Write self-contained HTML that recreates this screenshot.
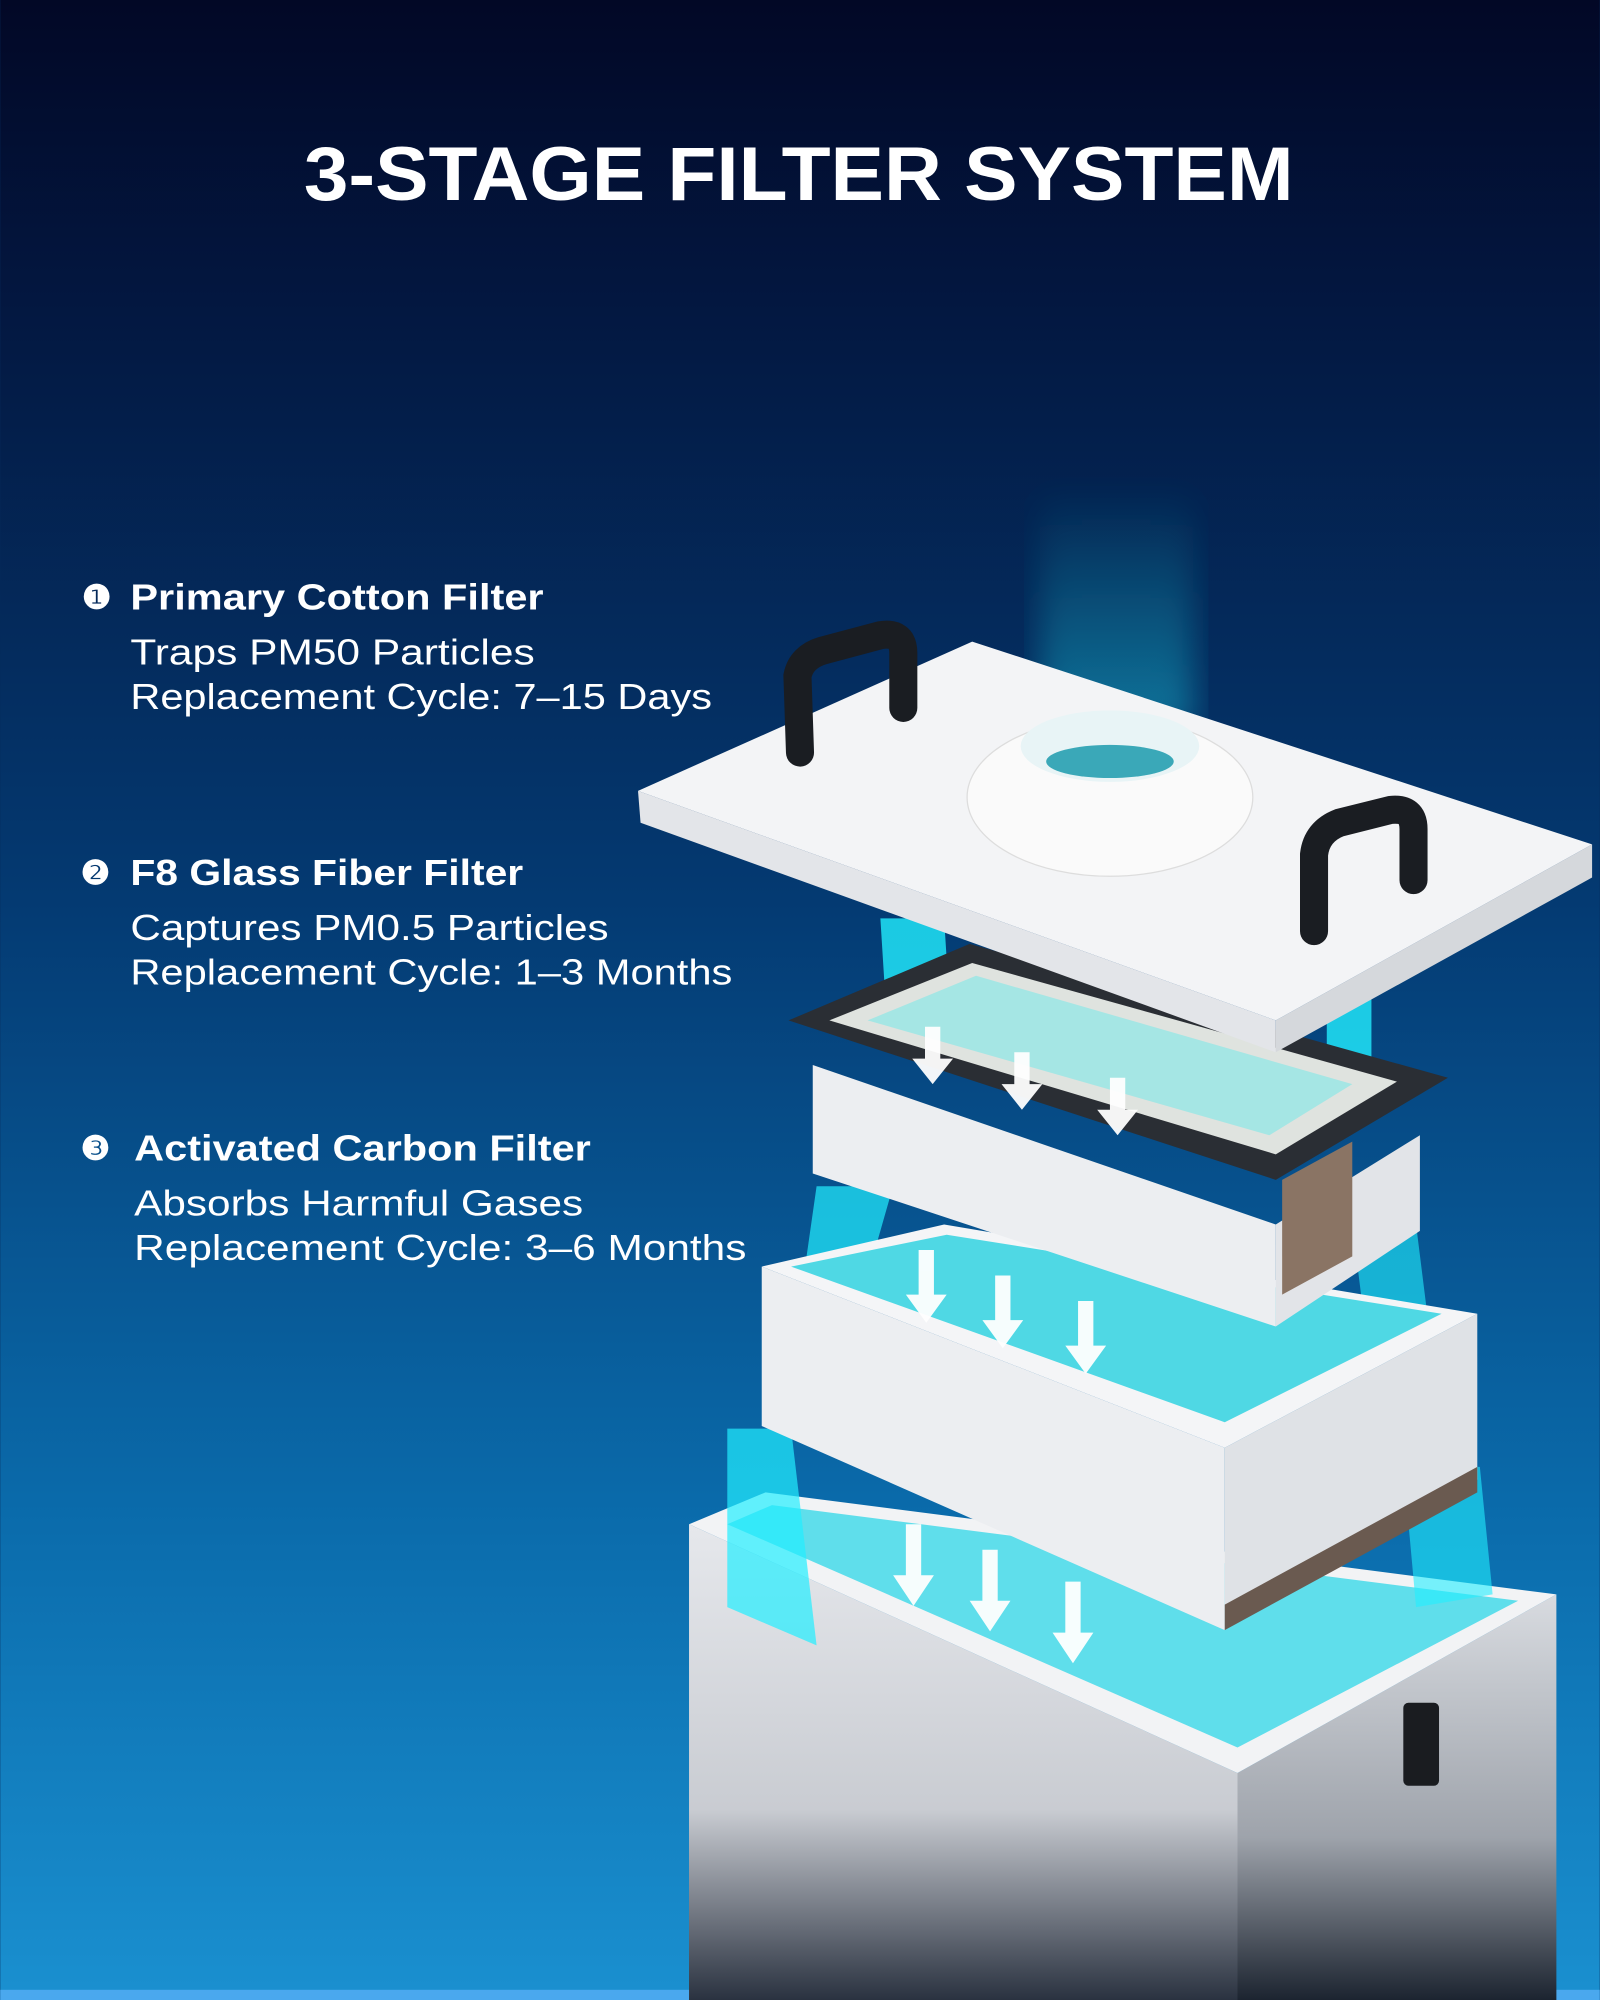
<!DOCTYPE html>
<html><head><meta charset="utf-8"><style>
html,body{margin:0;padding:0;width:1600px;height:2000px;overflow:hidden;background:#062a5a}
svg{display:block}
text{font-family:"Liberation Sans",sans-serif;fill:#fff}
</style></head><body>
<svg width="1600" height="2000" viewBox="0 0 1254 1568" xmlns="http://www.w3.org/2000/svg">
<defs>
<linearGradient id="bg" x1="0" y1="0" x2="0" y2="1">
<stop offset="0" stop-color="#020826"/><stop offset="0.15" stop-color="#031740"/>
<stop offset="0.45" stop-color="#043a72"/><stop offset="0.75" stop-color="#0a6aaa"/>
<stop offset="1" stop-color="#1a90d0"/></linearGradient>
<linearGradient id="beam" x1="0" y1="0" x2="0" y2="1">
<stop offset="0" stop-color="#2ff" stop-opacity="0"/><stop offset="1" stop-color="#2ef" stop-opacity="0.8"/></linearGradient>
<linearGradient id="body" x1="0" y1="0" x2="0" y2="1">
<stop offset="0" stop-color="#e6e8ec"/><stop offset="0.6" stop-color="#c9ccd2"/><stop offset="1" stop-color="#2a3240"/></linearGradient>
<linearGradient id="bodyR" x1="0" y1="0" x2="0" y2="1">
<stop offset="0" stop-color="#d8dbe0"/><stop offset="0.6" stop-color="#9ea3ab"/><stop offset="1" stop-color="#1c2430"/></linearGradient>
<filter id="blur"><feGaussianBlur stdDeviation="12"/></filter>
</defs>
<rect width="1254" height="1568" fill="url(#bg)"/>
<rect y="1560" width="1254" height="8" fill="#4aa8ee"/>
<text x="238" y="157" font-size="60" font-weight="bold" textLength="776" lengthAdjust="spacingAndGlyphs">3-STAGE FILTER SYSTEM</text>

<text x="64" y="477" font-size="26" font-weight="bold">❶</text>
<text x="102" y="478" font-size="28" font-weight="bold" textLength="324" lengthAdjust="spacingAndGlyphs">Primary Cotton Filter</text>
<text x="102" y="521" font-size="28" textLength="317" lengthAdjust="spacingAndGlyphs">Traps PM50 Particles</text>
<text x="102" y="556" font-size="28" textLength="456" lengthAdjust="spacingAndGlyphs">Replacement Cycle: 7–15 Days</text>
<text x="63" y="693" font-size="26" font-weight="bold">❷</text>
<text x="102" y="694" font-size="28" font-weight="bold" textLength="308" lengthAdjust="spacingAndGlyphs">F8 Glass Fiber Filter</text>
<text x="102" y="737" font-size="28" textLength="375" lengthAdjust="spacingAndGlyphs">Captures PM0.5 Particles</text>
<text x="102" y="772" font-size="28" textLength="472" lengthAdjust="spacingAndGlyphs">Replacement Cycle: 1–3 Months</text>
<text x="63" y="909" font-size="26" font-weight="bold">❸</text>
<text x="105" y="910" font-size="28" font-weight="bold" textLength="358" lengthAdjust="spacingAndGlyphs">Activated Carbon Filter</text>
<text x="105" y="953" font-size="28" textLength="352" lengthAdjust="spacingAndGlyphs">Absorbs Harmful Gases</text>
<text x="105" y="988" font-size="28" textLength="480" lengthAdjust="spacingAndGlyphs">Replacement Cycle: 3–6 Months</text>

<!-- top beam -->
<rect x="815" y="380" width="120" height="190" fill="url(#beam)" opacity="0.45" filter="url(#blur)"/>

<!-- body -->
<polygon points="540,1195 970,1390 970,1568 540,1568" fill="url(#body)"/>
<polygon points="970,1390 1220,1250 1220,1568 970,1568" fill="url(#bodyR)"/>
<polygon points="540,1195 600,1170 1220,1250 970,1390" fill="#f2f3f5"/>
<polygon points="570,1195 605,1180 1190,1255 970,1370" fill="#3ad8e8" opacity="0.8"/>
<rect x="1100" y="1335" width="28" height="65" rx="4" fill="#1a1c20"/>
<!-- beams between -->
<polygon points="570,1120 620,1120 640,1290 570,1260" fill="#2ef" opacity="0.7"/>
<polygon points="1100,1150 1160,1150 1170,1250 1110,1260" fill="#2ef" opacity="0.6"/>
<polygon points="640,930 700,930 680,1000 630,1000" fill="#2ef" opacity="0.7"/>
<polygon points="1060,960 1110,960 1120,1040 1070,1040" fill="#2ef" opacity="0.6"/>
<polygon points="690,720 740,720 745,800 695,800" fill="#2ef" opacity="0.8"/>
<polygon points="1040,780 1075,780 1075,850 1040,850" fill="#2ef" opacity="0.8"/>

<!-- filter 3 -->
<polygon points="597,993 960,1135 960,1278 597,1118" fill="#eceef1"/>
<polygon points="960,1135 1158,1030 1158,1160 960,1278" fill="#dfe2e6"/>
<polygon points="960,1258 1158,1150 1158,1170 960,1278" fill="#6a5a50"/>
<polygon points="597,993 740,960 1158,1030 960,1135" fill="#f4f5f7"/>
<polygon points="620,993 742,968 1130,1030 960,1115" fill="#4fd8e4"/>
<!-- filter 2 -->
<polygon points="637,835 1000,960 1000,1040 637,920" fill="#eceef1"/>
<polygon points="1000,960 1113,890 1113,965 1000,1040" fill="#e2e4e8"/>
<polygon points="1005,925 1060,895 1060,985 1005,1015" fill="#8a7464"/>
<polygon points="618,800 760,740 1135,845 1000,925" fill="#2a2e34"/>
<polygon points="650,800 762,755 1095,848 1000,905" fill="#dfe3df"/>
<polygon points="680,800 765,765 1060,850 995,890" fill="#7fe8e8" opacity="0.6"/>

<!-- lid -->
<polygon points="500,620 502,645 1000,825 1000,800" fill="#e3e5e9"/>
<polygon points="1000,800 1248,662 1248,688 1000,825" fill="#d5d8dc"/>
<polygon points="500,620 762,503 1248,662 1000,800" fill="#f3f4f6"/>
<ellipse cx="870" cy="625" rx="112" ry="62" fill="#fafafa" stroke="#ddd"/>
<ellipse cx="870" cy="585" rx="70" ry="28" fill="#e8f4f6"/>
<ellipse cx="870" cy="597" rx="50" ry="13" fill="#3aa8b8"/>
<!-- handles -->
<path d="M627,590 L625,530 Q628,515 645,510 L690,498 Q708,495 708,512 L708,555" stroke="#1a1d22" stroke-width="22" fill="none" stroke-linecap="round"/>
<path d="M1030,730 L1030,670 Q1032,652 1050,645 L1090,635 Q1108,633 1108,650 L1108,690" stroke="#1a1d22" stroke-width="22" fill="none" stroke-linecap="round"/>

<!-- arrows -->
<g fill="#fff" opacity="0.95">
<path d="M725,805 h12 v25 h10 l-16,20 l-16,-20 h10z"/>
<path d="M795,825 h12 v25 h10 l-16,20 l-16,-20 h10z"/>
<path d="M870,845 h12 v25 h10 l-16,20 l-16,-20 h10z"/>
<path d="M720,980 h12 v35 h10 l-16,22 l-16,-22 h10z"/>
<path d="M780,1000 h12 v35 h10 l-16,22 l-16,-22 h10z"/>
<path d="M845,1020 h12 v35 h10 l-16,22 l-16,-22 h10z"/>
<path d="M710,1195 h12 v40 h10 l-16,24 l-16,-24 h10z"/>
<path d="M770,1215 h12 v40 h10 l-16,24 l-16,-24 h10z"/>
<path d="M835,1240 h12 v40 h10 l-16,24 l-16,-24 h10z"/>
</g>
</svg>
</body></html>
